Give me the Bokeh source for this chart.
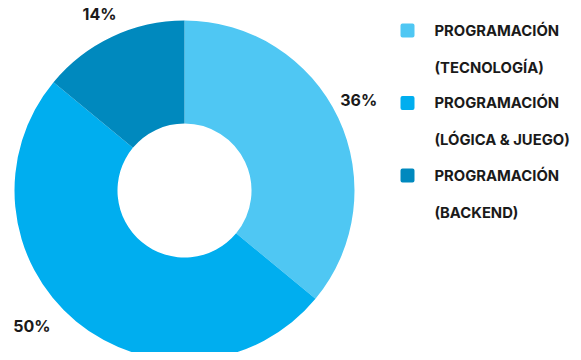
import math
from bokeh.plotting import figure
from bokeh.models import Range1d, ColumnDataSource
from bokeh.core.properties import value
from bokeh.embed import file_html
from bokeh.resources import INLINE

categories = ["PROGRAMACIÓN (TECNOLOGÍA)", "PROGRAMACIÓN (LÓGICA & JUEGO)", "PROGRAMACIÓN (BACKEND)"]
legend_line1 = ["PROGRAMACIÓN", "PROGRAMACIÓN", "PROGRAMACIÓN"]
legend_line2 = ["(TECNOLOGÍA)", "(LÓGICA & JUEGO)", "(BACKEND)"]
shares = [36, 50, 14]
colors = ["#4FC7F3", "#00AEEF", "#0089BE"]

W, H = 573, 352
p = figure(width=W, height=H, output_backend="svg", toolbar_location=None,
           x_range=Range1d(0, W), y_range=Range1d(0, H), min_border=0)
p.axis.visible = False
p.grid.visible = False
p.outline_line_color = None
p.background_fill_color = "white"

# screen coords (from top-left of picture) -> data
def Y(sy):
    return H - sy

cx, cy = 184, Y(190)
r_out, r_in = 170, 67

total = sum(shares)
starts, ends, mids = [], [], []
cum = 0
for s in shares:
    a0 = math.pi / 2 - 2 * math.pi * (cum + s) / total
    a1 = math.pi / 2 - 2 * math.pi * cum / total
    starts.append(a0)
    ends.append(a1)
    mids.append((a0 + a1) / 2)
    cum += s

src = ColumnDataSource(dict(start=starts, end=ends, color=colors))
p.annular_wedge(x=cx, y=cy, inner_radius=r_in, outer_radius=r_out,
                start_angle="start", end_angle="end", fill_color="color",
                line_color=None, source=src)

# percentage labels (placed outside the ring)
label_r = [198, 205, 195]
label_shift = [(-5, 6), (-22, 22), (-2, 0)]
lx, ly, lt = [], [], []
for m, s, rr, (dx, dy) in zip(mids, shares, label_r, label_shift):
    lx.append(cx + rr * math.cos(m) + dx)
    ly.append(cy + rr * math.sin(m) + dy)
    lt.append(f"{s}%")
p.text(x=lx, y=ly, text=lt, text_align="center", text_baseline="middle",
       text_font=value("Inter"), text_font_style="bold", text_font_size="16px",
       text_color="#1a1a1a")

# legend
leg_x, leg_y0, row = 407, 30, 72.5
sq_x = [leg_x] * 3
sq_y = [Y(leg_y0 + i * row) for i in range(3)]
p.rect(x=sq_x, y=sq_y, width=10, height=10, fill_color=colors, line_color=colors,
       line_width=4, line_join="round")
tx = [434] * 6
ty = []
tt = []
for i in range(3):
    ty.append(Y(leg_y0 + i * row))
    tt.append(legend_line1[i])
    ty.append(Y(leg_y0 + i * row + 37))
    tt.append(legend_line2[i])
p.text(x=tx, y=ty, text=tt, text_align="left", text_baseline="middle",
       text_font=value("Inter"), text_font_style="bold", text_font_size="14.8px",
       text_color="#1a1a1a")

open("out.html", "w").write(file_html(p, INLINE))
